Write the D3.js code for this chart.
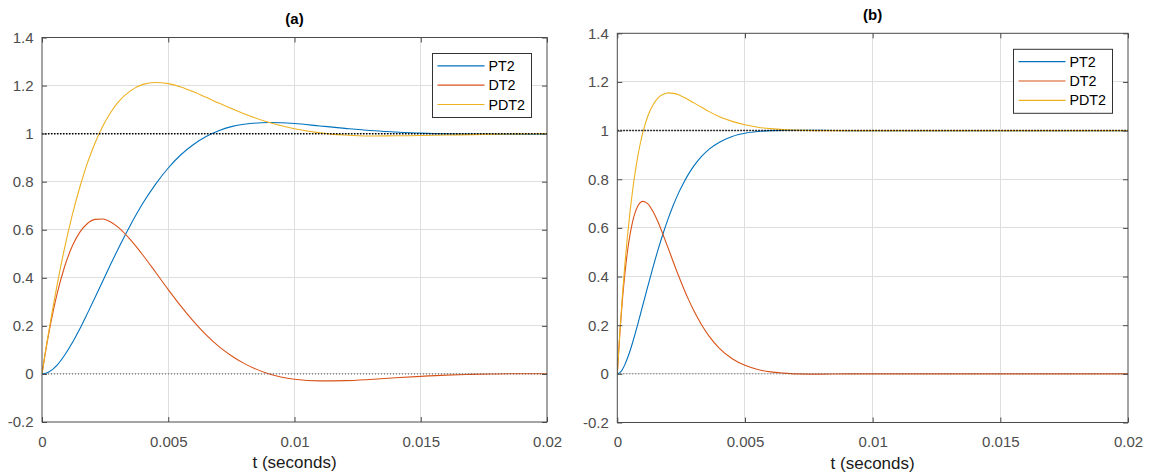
<!DOCTYPE html>
<html>
<head>
<meta charset="utf-8">
<script src="https://cdn.jsdelivr.net/npm/d3@7/dist/d3.min.js"></script>
<style>
  html, body { margin: 0; padding: 0; background: #fff; }
  svg { display: block; font-family: "Liberation Sans", Arial, Helvetica, sans-serif; }
</style>
</head>
<body>
<svg id="chart" width="1153" height="475"></svg>
<script>
// ---------------- data ----------------
const seriesNames = ["PT2", "DT2", "PDT2"];
const seriesColors = ["#0072BD", "#D95319", "#EDB120"];
const panelTitles = ["(a)", "(b)"];
const xTicks = [0, 0.005, 0.01, 0.015, 0.02];
const xTickLabels = ["0", "0.005", "0.01", "0.015", "0.02"];
const yTicks = [-0.2, 0, 0.2, 0.4, 0.6, 0.8, 1, 1.2, 1.4];
const yTickLabels = ["-0.2", "0", "0.2", "0.4", "0.6", "0.8", "1", "1.2", "1.4"];
const xLabel = "t (seconds)";
const refLevels = [1, 0];

// panel (a)
const tA = [0, 0.00015, 0.0003, 0.0006, 0.0009, 0.0012, 0.0015, 0.0018, 0.0021, 0.0024, 0.0027, 0.003, 0.0035, 0.004, 0.0045, 0.005, 0.0055, 0.006, 0.0065, 0.007, 0.0075, 0.008, 0.009, 0.01, 0.011, 0.012, 0.013, 0.014, 0.015, 0.016, 0.017, 0.018, 0.019, 0.02];
const pt2A  = [0, 0.003, 0.010, 0.037, 0.079, 0.130, 0.188, 0.252, 0.318, 0.385, 0.452, 0.517, 0.619, 0.711, 0.790, 0.857, 0.912, 0.955, 0.988, 1.012, 1.029, 1.039, 1.046, 1.042, 1.032, 1.022, 1.013, 1.007, 1.002, 0.999, 0.998, 0.998, 0.998, 0.999];
const dt2A  = [0, 0.099, 0.186, 0.334, 0.448, 0.532, 0.590, 0.626, 0.643, 0.645, 0.633, 0.612, 0.559, 0.494, 0.423, 0.351, 0.282, 0.219, 0.163, 0.115, 0.076, 0.044, 0.000, -0.022, -0.029, -0.028, -0.023, -0.016, -0.010, -0.005, -0.002, 0.000, 0.001, 0.001];
const pdt2A = [0, 0.102, 0.196, 0.371, 0.527, 0.662, 0.778, 0.878, 0.961, 1.030, 1.085, 1.129, 1.178, 1.205, 1.213, 1.208, 1.194, 1.174, 1.151, 1.127, 1.105, 1.083, 1.046, 1.020, 1.003, 0.994, 0.990, 0.991, 0.992, 0.994, 0.996, 0.998, 0.999, 1.000];

// panel (b)
const tB = [0, 0.0001, 0.0002, 0.0003, 0.0004, 0.0005, 0.0006, 0.0007, 0.0008, 0.0009, 0.001, 0.0012, 0.0014, 0.0016, 0.0018, 0.002, 0.0022, 0.0024, 0.0026, 0.0028, 0.003, 0.0033, 0.0036, 0.004, 0.0045, 0.005, 0.0055, 0.006, 0.0065, 0.007, 0.008, 0.009, 0.01, 0.012, 0.014, 0.016, 0.018, 0.02];
const pt2B  = [0, 0.005, 0.018, 0.039, 0.065, 0.095, 0.129, 0.165, 0.203, 0.243, 0.283, 0.362, 0.439, 0.512, 0.579, 0.640, 0.695, 0.744, 0.786, 0.823, 0.855, 0.894, 0.924, 0.952, 0.976, 0.989, 0.996, 1.000, 1.001, 1.001, 1.001, 1.000, 1.000, 1.000, 1.000, 1.000, 1.000, 1.000];
const dt2B  = [0, 0.167, 0.304, 0.415, 0.504, 0.573, 0.626, 0.664, 0.689, 0.704, 0.709, 0.699, 0.667, 0.623, 0.570, 0.515, 0.458, 0.403, 0.351, 0.303, 0.259, 0.202, 0.154, 0.105, 0.062, 0.035, 0.018, 0.008, 0.003, 0.000, -0.001, 0.000, 0.000, 0.000, 0.000, 0.000, 0.000, 0.000];
const pdt2B = [0, 0.171, 0.322, 0.454, 0.569, 0.668, 0.755, 0.829, 0.892, 0.947, 0.992, 1.061, 1.106, 1.135, 1.149, 1.155, 1.153, 1.147, 1.137, 1.126, 1.114, 1.096, 1.078, 1.057, 1.038, 1.024, 1.014, 1.008, 1.004, 1.002, 1.000, 1.000, 1.000, 1.000, 1.000, 1.000, 1.000, 1.000];

// ---------------- layout ----------------
const panels = [
  { title: panelTitles[0], t: tA, ys: [pt2A, dt2A, pdt2A], left: 42, right: 547, top: 37.5, bottom: 422 },
  { title: panelTitles[1], t: tB, ys: [pt2B, dt2B, pdt2B], left: 617.3, right: 1128, top: 33.3, bottom: 422.5 }
];

const svg = d3.select("#chart");
const axisColor = "#4a4a4a";
const tickLen = 5;

panels.forEach((p, pi) => {
  const x = d3.scaleLinear().domain([0, 0.02]).range([p.left, p.right]);
  const y = d3.scaleLinear().domain([-0.2, 1.4]).range([p.bottom, p.top]);
  const g = svg.append("g");
  const w = p.right - p.left, h = p.bottom - p.top;

  // grid
  g.append("g").selectAll("line.vg").data(xTicks.slice(1, -1)).join("line")
    .attr("x1", d => x(d)).attr("x2", d => x(d)).attr("y1", p.top).attr("y2", p.bottom)
    .attr("stroke", "#dedede").attr("stroke-width", 1).attr("shape-rendering", "crispEdges");
  g.append("g").selectAll("line.hg").data(yTicks.slice(1, -1)).join("line")
    .attr("x1", p.left).attr("x2", p.right).attr("y1", d => y(d)).attr("y2", d => y(d))
    .attr("stroke", "#dedede").attr("stroke-width", 1).attr("shape-rendering", "crispEdges");

  // clip
  const cid = "clip" + pi;
  svg.append("defs").append("clipPath").attr("id", cid)
    .append("rect").attr("x", p.left).attr("y", p.top).attr("width", w).attr("height", h);

  const curves = g.append("g").attr("clip-path", `url(#${cid})`);
  p.ys.forEach((vals, si) => {
    const pts = p.t.map((t, i) => [t, vals[i]]);
    const line = d3.line().x(d => x(d[0])).y(d => y(d[1])).curve(d3.curveMonotoneX);
    curves.append("path").attr("d", line(pts)).attr("fill", "none")
      .attr("stroke", seriesColors[si]).attr("stroke-width", 1.1);
  });

  // reference dotted lines
  curves.append("line").attr("x1", p.left).attr("x2", p.right).attr("y1", y(refLevels[0])).attr("y2", y(refLevels[0]))
    .attr("stroke", "#000").attr("stroke-width", 1.5).attr("stroke-dasharray", "1.5,1.5");
  curves.append("line").attr("x1", p.left).attr("x2", p.right).attr("y1", y(refLevels[1])).attr("y2", y(refLevels[1]))
    .attr("stroke", "#555").attr("stroke-width", 1).attr("stroke-dasharray", "1,2");

  // axes box
  g.append("rect").attr("x", p.left).attr("y", p.top).attr("width", w).attr("height", h)
    .attr("fill", "none").attr("stroke", axisColor).attr("stroke-width", 1);

  // axes with d3 axis generators (inward ticks)
  const xb = d3.axisBottom(x).tickValues(xTicks).tickFormat((d, i) => xTickLabels[i]).tickSizeInner(-tickLen).tickSizeOuter(0).tickPadding(14);
  const xt = d3.axisTop(x).tickValues(xTicks).tickFormat("").tickSizeInner(-tickLen).tickSizeOuter(0);
  const yl = d3.axisLeft(y).tickValues(yTicks).tickFormat((d, i) => yTickLabels[i]).tickSizeInner(-tickLen).tickSizeOuter(0).tickPadding(8.5);
  const yr = d3.axisRight(y).tickValues(yTicks).tickFormat("").tickSizeInner(-tickLen).tickSizeOuter(0);

  const styleAxis = sel => {
    sel.select(".domain").remove();
    sel.selectAll(".tick line").attr("stroke", axisColor);
    sel.selectAll(".tick text").attr("fill", "#4d4d4d").attr("font-size", 15)
      .attr("font-family", "'Liberation Sans', Arial, sans-serif");
  };
  g.append("g").attr("transform", `translate(0,${p.bottom})`).call(xb).call(styleAxis);
  g.append("g").attr("transform", `translate(0,${p.top})`).call(xt).call(styleAxis);
  g.append("g").attr("transform", `translate(${p.left},0)`).call(yl).call(styleAxis);
  g.append("g").attr("transform", `translate(${p.right},0)`).call(yr).call(styleAxis);

  // x label
  g.append("text").attr("x", (p.left + p.right) / 2).attr("y", p.bottom + 46)
    .attr("text-anchor", "middle").attr("font-size", 17).attr("fill", "#1a1a1a").text(xLabel);

  // title
  g.append("text").attr("x", (p.left + p.right) / 2).attr("y", p.top - 13.5)
    .attr("text-anchor", "middle").attr("font-size", 15).attr("font-weight", "bold").attr("fill", "#000").text(p.title);

  // legend
  const lx = p.right - 15.5 - 99, ly = p.top + 16;
  const lg = g.append("g");
  lg.append("rect").attr("x", lx).attr("y", ly).attr("width", 99).attr("height", 64)
    .attr("fill", "#fff").attr("stroke", "#333").attr("stroke-width", 1);
  seriesNames.forEach((n, si) => {
    const ry = ly + 12.4 + si * 19.3;
    lg.append("line").attr("x1", lx + 5).attr("x2", lx + 52).attr("y1", ry).attr("y2", ry)
      .attr("stroke", seriesColors[si]).attr("stroke-width", 1.2);
    lg.append("text").attr("x", lx + 56).attr("y", ry + 5).attr("font-size", 14.3).attr("fill", "#000").text(n);
  });
});
</script>
</body>
</html>
